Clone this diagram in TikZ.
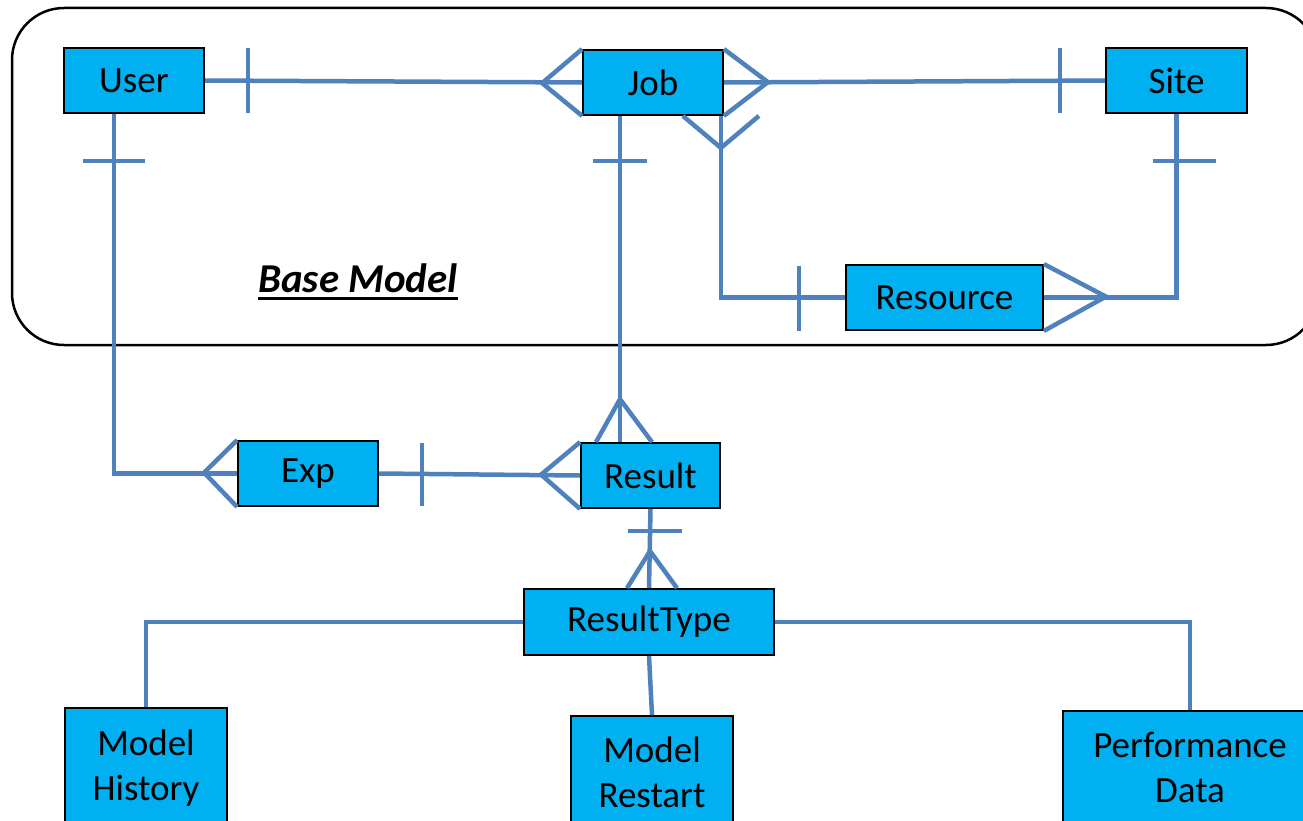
\documentclass[tikz,border=0pt]{standalone}
\usepackage{fontspec}
\setmainfont{Carlito}
\usepackage{xcolor}
\usepackage{tikz}

\definecolor{entityblue}{HTML}{00B0F0}
\definecolor{linkblue}{HTML}{4F81BD}

\begin{document}
\begin{tikzpicture}[
    x=1pt, y=-1pt,
    entity/.style={
        rectangle, draw=black, line width=1.8pt, fill=entityblue,
        minimum width=140pt, minimum height=65pt, align=center,
        inner sep=0pt, font=\fontsize{37}{45}\selectfont
    },
    tallentity/.style={entity, minimum width=162pt, minimum height=110pt},
    link/.style={draw=linkblue, line width=4.5pt},
    basebox/.style={draw=black, line width=2.5pt, rounded corners=52pt}
]
\clip (0,0) rectangle (1303,821);

% base model frame
\draw[basebox] (12,8) rectangle (1318,345);
\node[font=\fontsize{41}{45}\selectfont\bfseries\itshape, inner sep=0pt]
    (basemodel) at (358,278) {Base Model};
\draw[line width=3pt] ([yshift=-6pt]basemodel.base west) -- ([yshift=-6pt]basemodel.base east);

% entities
\node[entity] (user)   at (134,80.5)  {User};
\node[entity] (job)    at (653,82.5)  {Job};
\node[entity, minimum width=141pt] (site) at (1176.5,80.5) {Site};
\node[entity, minimum width=197pt] (res)  at (944.5,297.5) {Resource};
\node[entity] (exp)    at (308,473.5) {Exp};
\node[entity, minimum width=139pt] (result) at (650.5,475.5) {Result};
\node[entity, minimum width=250pt, minimum height=66pt] (rtype) at (649,622) {ResultType};
\node[tallentity, minimum height=121pt] (hist)    at (146,768.5)  {Model\\History};
\node[tallentity, minimum height=113pt] (restart) at (652,772.5)  {Model\\Restart};
\node[tallentity, minimum width=254pt, minimum height=112pt] (perf) at (1190,767) {Performance\\Data};

% user -- job
\draw[link] (user.east) -- (job.west);
\draw[link] ([shift={(43,-32)}]user.east) -- ++(0,65);
\draw[link] (job.north west) -- ++(-40,34) -- (job.south west);

% job -- site
\draw[link] (job.east) -- (site.west);
\draw[link] (job.north east) -- ++(44,33) -- (job.south east);
\draw[link] ([shift={(-45,-32)}]site.west) -- ++(0,65);

% job -- resource
\draw[link] ([xshift=-3pt]job.south east) |- (res.west);
\draw[link] ([xshift=-41pt]job.south east) -- ++(38,32) -- ++(38,-32);
\draw[link] ([shift={(-46,-32)}]res.west) -- ++(0,65);

% site -- resource
\draw[link] (site.south) |- (res.east);
\draw[link] ([shift={(-24,47)}]site.south) -- ++(63,0);
\draw[link] (res.north east) -- ++(62,32.5) -- (res.south east);

% user -- exp
\draw[link] ([xshift=-20pt]user.south) |- (exp.west);
\draw[link] ([shift={(-51,47)}]user.south) -- ++(62,0);
\draw[link] (exp.north west) -- ++(-33,32.5) -- (exp.south west);

% exp -- result
\draw[link] (exp.east) -- (result.west);
\draw[link] ([shift={(43,-31)}]exp.east) -- ++(0,63);
\draw[link] (result.north west) -- ++(-39,32.5) -- (result.south west);

% job -- result
\draw[link] ([xshift=-33pt]job.south) -- ([xshift=-33pt]job.south |- result.north);
\draw[link] ([shift={(-60,45)}]job.south) -- ++(54,0);
\draw[link] ([xshift=-54.5pt]result.north) -- ++(24,-43) -- ++(32,43);

% result -- result type
\draw[link] (result.south) -- (rtype.north);
\draw[link] ([shift={(-23,22)}]result.south) -- ++(54,0);
\draw[link] ([xshift=-22pt]rtype.north) -- ++(23,-37) -- ++(27,37);

% result type -- kinds
\draw[link] (rtype.west) -| (hist.north);
\draw[link] (rtype.south) -- (restart.north);
\draw[link] (rtype.east) -| (perf.north);
\end{tikzpicture}
\end{document}
